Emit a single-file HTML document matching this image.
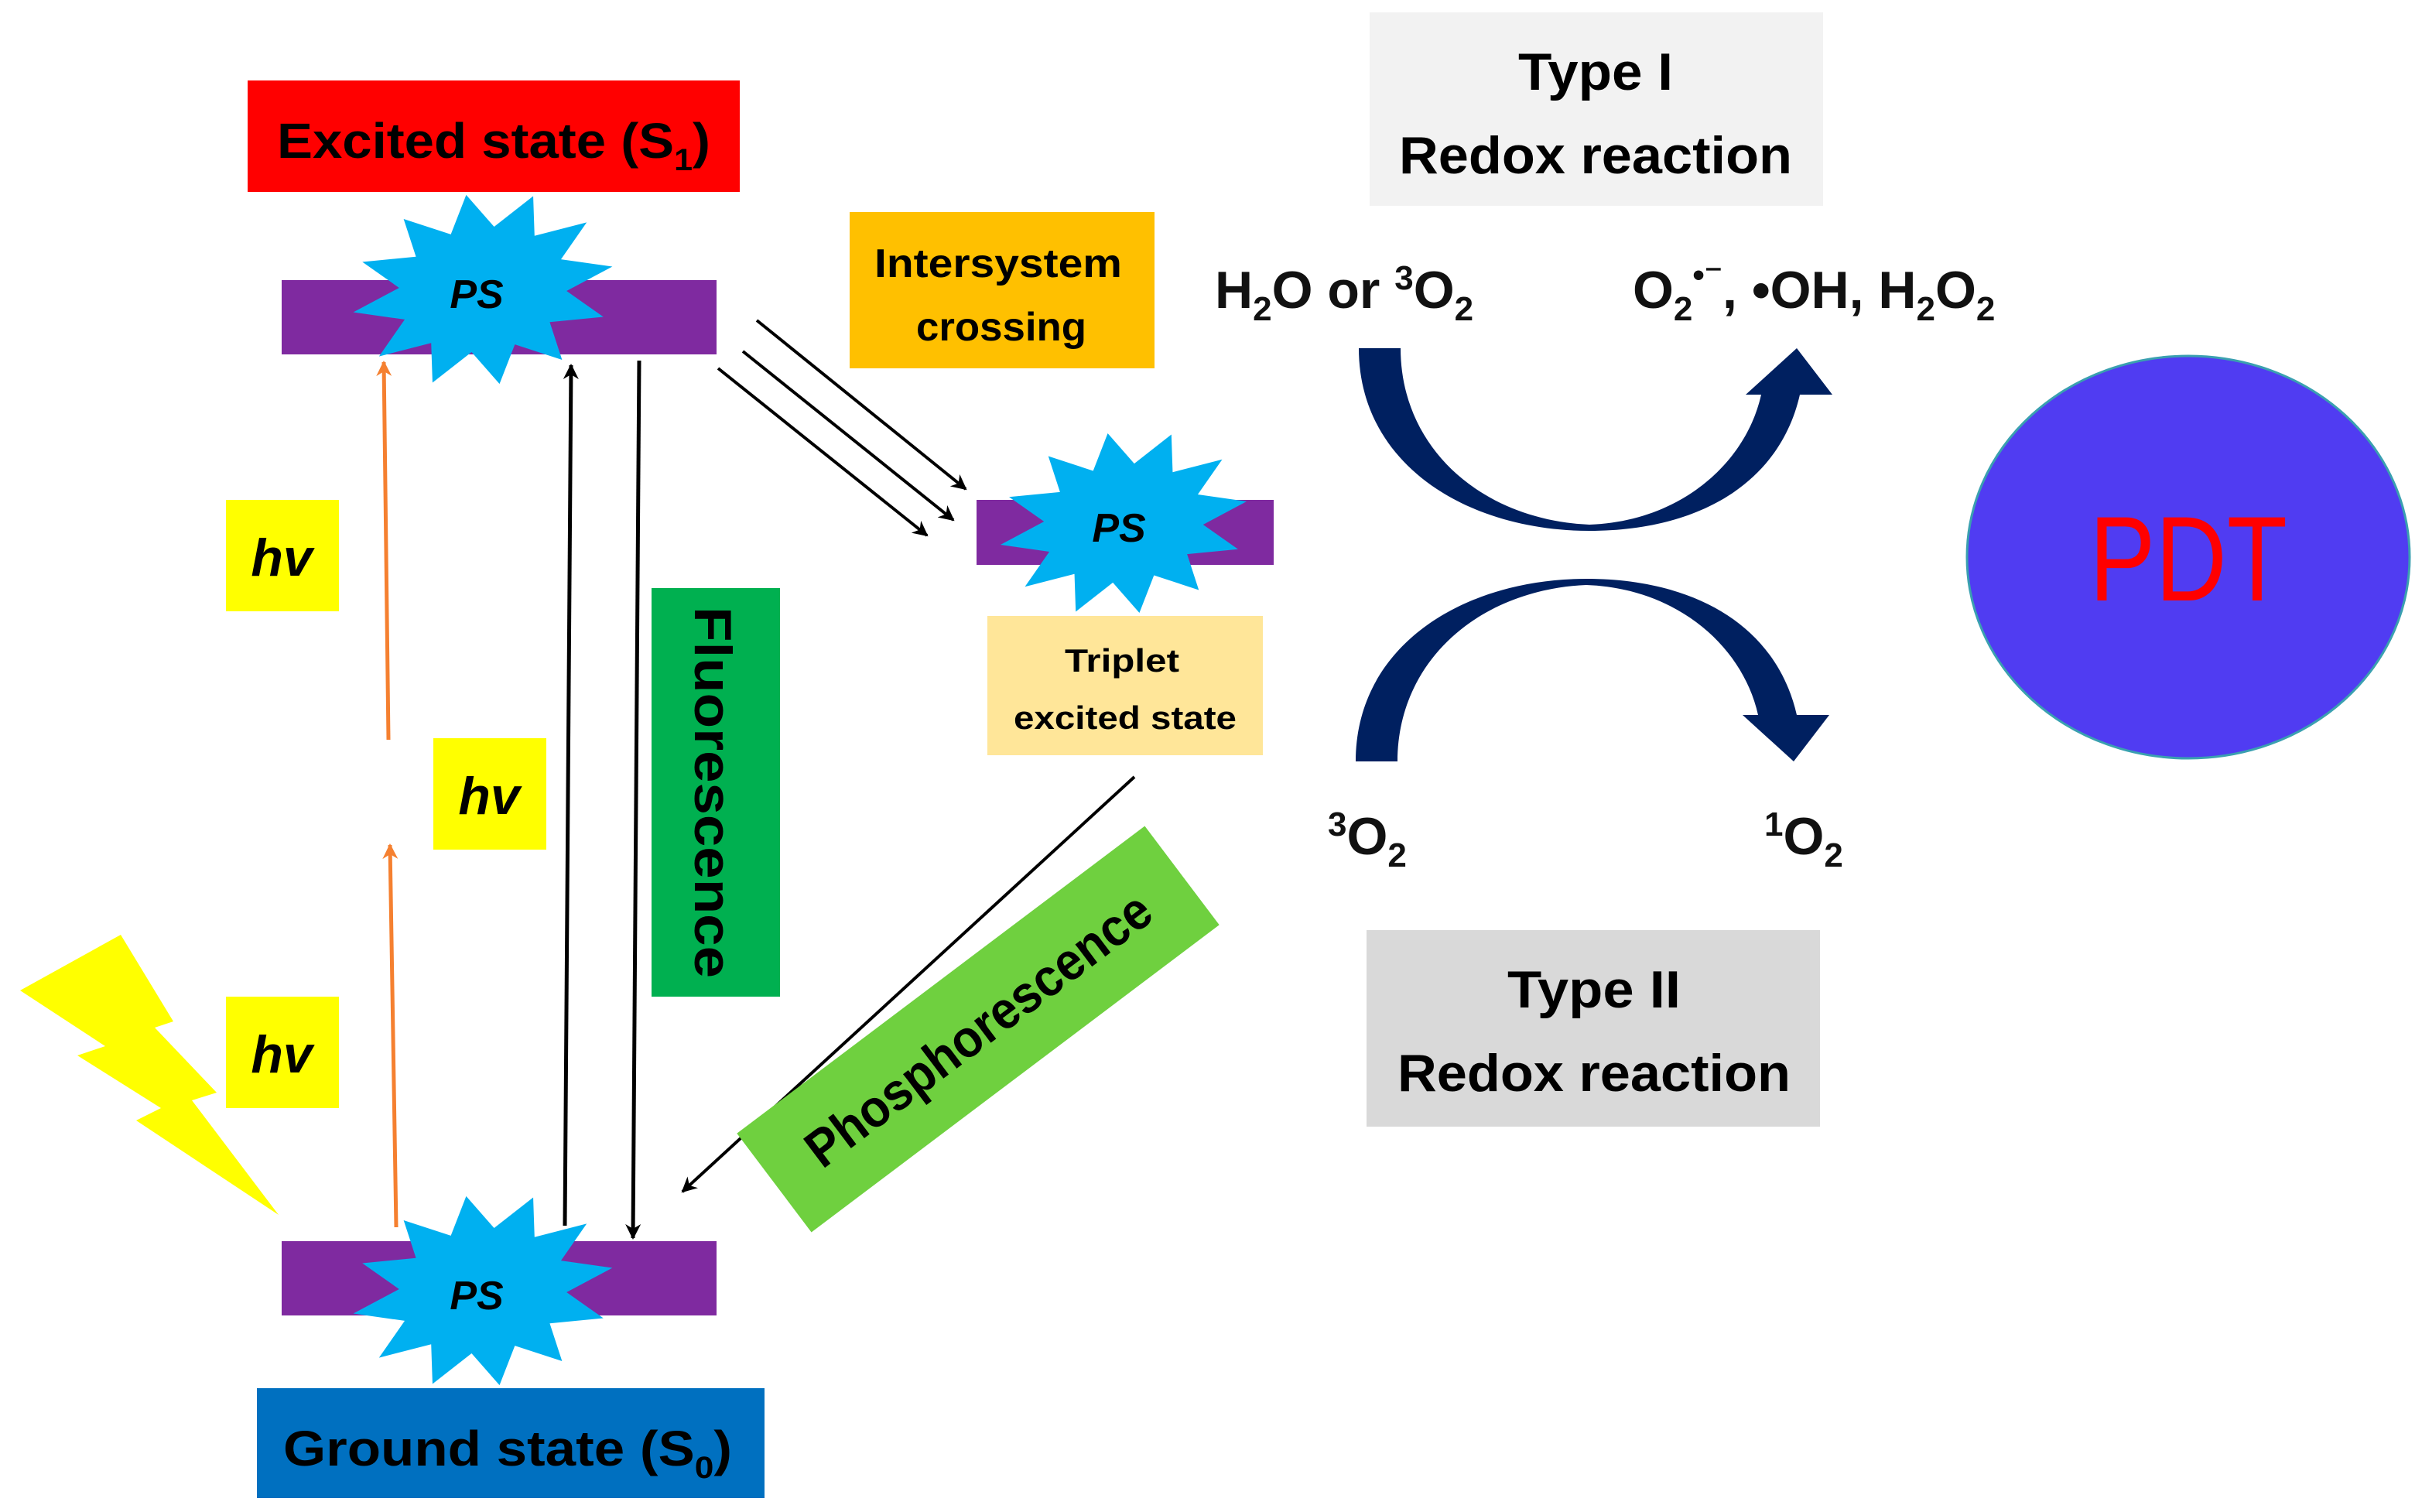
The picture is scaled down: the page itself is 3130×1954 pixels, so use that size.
<!DOCTYPE html>
<html><head><meta charset="utf-8"><style>html,body{margin:0;padding:0;background:#fff}svg{display:block}</style></head>
<body>
<svg width="3130" height="1954" viewBox="0 0 1565 977" xmlns="http://www.w3.org/2000/svg" font-family="Liberation Sans, sans-serif">
<defs>
<polygon id="star" points="85,0 53.1,10.4 73.6,31 38.9,28.3 42.5,53.7 14.2,38.6 0,62 -14.2,38.6 -42.5,53.7 -38.9,28.3 -73.6,31 -53.1,10.4 -85,0 -53.1,-10.4 -73.6,-31 -38.9,-28.3 -42.5,-53.7 -14.2,-38.6 0,-62 14.2,-38.6 42.5,-53.7 38.9,-28.3 73.6,-31 53.1,-10.4" fill="#00b0f0"/>
<marker id="ah" markerWidth="10" markerHeight="10" refX="9" refY="5" orient="auto" markerUnits="userSpaceOnUse"><path d="M0,0 L10,5 L0,10 L3,5 Z" fill="#000"/></marker>
<marker id="aho" markerWidth="10" markerHeight="10" refX="9" refY="5" orient="auto" markerUnits="userSpaceOnUse"><path d="M0,0 L10,5 L0,10 L3,5 Z" fill="#f58030"/></marker>
</defs>

<!-- Excited state -->
<rect x="160" y="52" width="318" height="72" fill="#ff0000"/>
<text x="319" y="102" font-size="32" font-weight="bold" text-anchor="middle" textLength="280" lengthAdjust="spacingAndGlyphs">Excited state (S<tspan font-size="20" dy="8">1</tspan><tspan dy="-8">)</tspan></text>

<!-- Top bar & star -->
<rect x="182" y="181" width="281" height="48" fill="#7f2aa0"/>
<use href="#star" transform="translate(312,187) rotate(-10)"/>
<text x="308" y="199" font-size="26" font-weight="bold" font-style="italic" text-anchor="middle">PS</text>

<!-- Bottom bar & star -->
<rect x="182" y="802" width="281" height="48" fill="#7f2aa0"/>
<use href="#star" transform="translate(312,834) rotate(-10)"/>
<text x="308" y="846" font-size="26" font-weight="bold" font-style="italic" text-anchor="middle">PS</text>

<!-- Ground state -->
<rect x="166" y="897" width="328" height="71" fill="#0070c0"/>
<text x="328" y="947" font-size="32" font-weight="bold" text-anchor="middle" textLength="290" lengthAdjust="spacingAndGlyphs">Ground state (S<tspan font-size="20" dy="8">0</tspan><tspan dy="-8">)</tspan></text>

<!-- orange arrows -->
<line x1="251" y1="478" x2="248" y2="234" stroke="#f58030" stroke-width="2.5" marker-end="url(#aho)"/>
<line x1="256" y1="793" x2="252" y2="546" stroke="#f58030" stroke-width="2.5" marker-end="url(#aho)"/>

<!-- hv boxes -->
<rect x="146" y="323" width="73" height="72" fill="#ffff00"/>
<text x="182" y="372" font-size="34" font-weight="bold" font-style="italic" text-anchor="middle">hv</text>
<rect x="280" y="477" width="73" height="72" fill="#ffff00"/>
<text x="316" y="526" font-size="34" font-weight="bold" font-style="italic" text-anchor="middle">hv</text>
<rect x="146" y="644" width="73" height="72" fill="#ffff00"/>
<text x="182" y="693" font-size="34" font-weight="bold" font-style="italic" text-anchor="middle">hv</text>

<!-- lightning -->
<polygon points="13,640 78,604 112,660 100,664 140,706 124,711 180,785 88,724 104,716 50,682 68,676" fill="#ffff00"/>

<!-- black vertical arrows -->
<line x1="365" y1="792" x2="369" y2="236" stroke="#000" stroke-width="2.5" marker-end="url(#ah)"/>
<line x1="413" y1="233" x2="409" y2="800" stroke="#000" stroke-width="2.5" marker-end="url(#ah)"/>

<!-- Fluorescence -->
<rect x="421" y="380" width="83" height="264" fill="#00b050"/>
<text transform="translate(449,512) rotate(90)" font-size="34" font-weight="bold" text-anchor="middle" textLength="240" lengthAdjust="spacingAndGlyphs">Fluorescence</text>

<!-- ISC arrows -->
<line x1="489" y1="207" x2="624" y2="316" stroke="#000" stroke-width="2" marker-end="url(#ah)"/>
<line x1="480" y1="227" x2="616" y2="336" stroke="#000" stroke-width="2" marker-end="url(#ah)"/>
<line x1="464" y1="238" x2="599" y2="346" stroke="#000" stroke-width="2" marker-end="url(#ah)"/>

<!-- Intersystem crossing -->
<rect x="549" y="137" width="197" height="101" fill="#ffc000"/>
<text x="645" y="179" font-size="26" font-weight="bold" text-anchor="middle" textLength="160" lengthAdjust="spacingAndGlyphs">Intersystem</text>
<text x="647" y="220" font-size="26" font-weight="bold" text-anchor="middle" textLength="110" lengthAdjust="spacingAndGlyphs">crossing</text>

<!-- Triplet -->
<rect x="631" y="323" width="192" height="42" fill="#7f2aa0"/>
<use href="#star" transform="translate(726,338) rotate(-10) scale(0.95)"/>
<text x="723" y="350" font-size="26" font-weight="bold" font-style="italic" text-anchor="middle">PS</text>
<rect x="638" y="398" width="178" height="90" fill="#ffe699"/>
<text x="725" y="434" font-size="21" font-weight="bold" text-anchor="middle" textLength="74" lengthAdjust="spacingAndGlyphs">Triplet</text>
<text x="727" y="471" font-size="21" font-weight="bold" text-anchor="middle" textLength="144" lengthAdjust="spacingAndGlyphs">excited state</text>

<!-- Phosphorescence arrow -->
<line x1="733" y1="502" x2="441" y2="770" stroke="#000" stroke-width="2" marker-end="url(#ah)"/>
<g transform="translate(632,665) rotate(-37)">
<rect x="-165" y="-40" width="330" height="80" fill="#6fd03f"/>
<text x="0" y="12" font-size="34" font-weight="bold" text-anchor="middle" textLength="270" lengthAdjust="spacingAndGlyphs">Phosphorescence</text>
</g>

<!-- Type I -->
<rect x="885" y="8" width="293" height="125" fill="#f2f2f2"/>
<text x="1031" y="58" font-size="34" font-weight="bold" text-anchor="middle" textLength="100" lengthAdjust="spacingAndGlyphs">Type I</text>
<text x="1031" y="112" font-size="34" font-weight="bold" text-anchor="middle" textLength="254" lengthAdjust="spacingAndGlyphs">Redox reaction</text>

<!-- Type II -->
<rect x="883" y="601" width="293" height="127" fill="#d9d9d9"/>
<text x="1030" y="651" font-size="34" font-weight="bold" text-anchor="middle" textLength="112" lengthAdjust="spacingAndGlyphs">Type II</text>
<text x="1030" y="705" font-size="34" font-weight="bold" text-anchor="middle" textLength="254" lengthAdjust="spacingAndGlyphs">Redox reaction</text>

<!-- species labels -->
<text x="785" y="199" font-size="34" font-weight="bold" fill="#111">H<tspan font-size="22" dy="8">2</tspan><tspan dy="-8">O or </tspan><tspan font-size="22" dy="-12">3</tspan><tspan dy="12">O</tspan><tspan font-size="22" dy="8">2</tspan></text>
<text x="1055" y="199" font-size="34" font-weight="bold" fill="#111">O<tspan font-size="22" dy="8">2</tspan><tspan font-size="22" dy="-22">•⁻</tspan><tspan dy="14">, •OH, H</tspan><tspan font-size="22" dy="8">2</tspan><tspan dy="-8">O</tspan><tspan font-size="22" dy="8">2</tspan></text>
<text x="858" y="552" font-size="34" font-weight="bold" fill="#111"><tspan font-size="22" dy="-12">3</tspan><tspan dy="12">O</tspan><tspan font-size="22" dy="8">2</tspan></text>
<text x="1140" y="552" font-size="34" font-weight="bold" fill="#111"><tspan font-size="22" dy="-12">1</tspan><tspan dy="12">O</tspan><tspan font-size="22" dy="8">2</tspan></text>

<!-- curved arrows -->
<path d="M878,225 L905,225 C905,290 958,336 1027,339 C1085,337 1128,300 1138,255 L1128,255 L1161,225 L1184,255 L1163,255 C1150,312 1098,343 1027,343 C948,343 878,300 878,225 Z" fill="#002060"/>
<path d="M876,492 L903,492 C903,427 956,381 1025,378 C1083,380 1126,417 1136,462 L1126,462 L1159,492 L1182,462 L1161,462 C1148,405 1096,374 1025,374 C946,374 876,417 876,492 Z" fill="#002060"/>

<!-- PDT -->
<ellipse cx="1414" cy="360" rx="143" ry="130" fill="#503cf2" stroke="#3aa0b0" stroke-width="1.5"/>
<text x="1414" y="388" font-size="78" fill="#ff0000" text-anchor="middle" textLength="128" lengthAdjust="spacingAndGlyphs">PDT</text>
</svg>
</body></html>
